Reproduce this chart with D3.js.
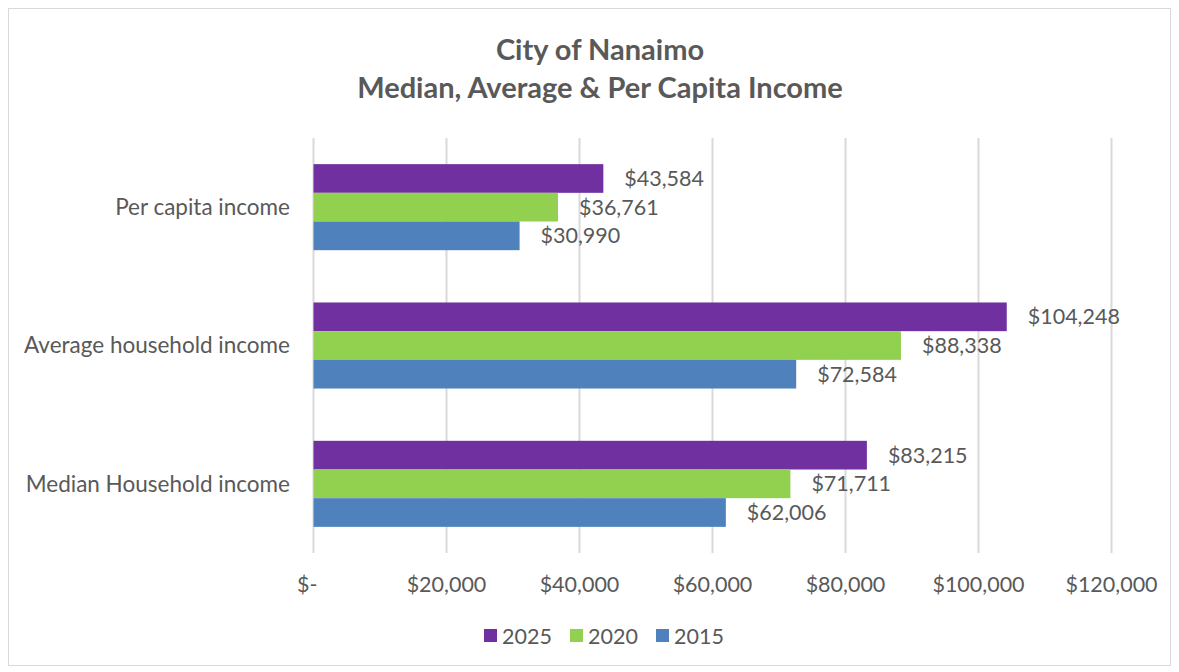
<!DOCTYPE html>
<html>
<head>
<meta charset="utf-8">
<script src="https://cdn.jsdelivr.net/npm/d3@7"></script>
<style>
  body { margin: 0; background: #fff; }
  text { font-family: Lato, "Open Sans", sans-serif; fill: #595959; }
</style>
</head>
<body>
<script>
// categories top to bottom
var categories = ["Per capita income", "Average household income", "Median Household income"];
var seriesNames = ["2025", "2020", "2015"];
var values2025 = [43584, 104248, 83215];
var values2020 = [36761, 88338, 71711];
var values2015 = [30990, 72584, 62006];
var xTicks = [0, 20000, 40000, 60000, 80000, 100000, 120000];
var colors = ["#7030a0", "#92d050", "#4f81bd"];

var width = 1179, height = 672;
var seriesValues = [values2025, values2020, values2015];
var fs = 21.5;

var svg = d3.select("body").append("svg")
    .attr("width", width)
    .attr("height", height);

// chart border
svg.append("rect")
    .attr("x", 8.5).attr("y", 8.5)
    .attr("width", 1162).attr("height", 657)
    .attr("fill", "#fff")
    .attr("stroke", "#d9d9d9");

// title
svg.append("text")
    .attr("x", 600).attr("y", 60)
    .attr("text-anchor", "middle")
    .attr("font-size", 29).attr("font-weight", "bold")
    .text("City of Nanaimo");
svg.append("text")
    .attr("x", 600).attr("y", 98)
    .attr("text-anchor", "middle")
    .attr("font-size", 29).attr("font-weight", "bold")
    .text("Median, Average & Per Capita Income");

var x = d3.scaleLinear().domain([0, 120000]).range([313.5, 1111.5]);

var y0 = d3.scaleBand()
    .domain(categories)
    .range([138, 553])
    .paddingInner(0.378)
    .paddingOuter(0.189);

var y1 = d3.scaleBand()
    .domain(seriesNames)
    .range([0, y0.bandwidth()]);

// gridlines
svg.append("g").selectAll("line")
    .data(xTicks)
    .enter().append("line")
    .attr("x1", function(d) { return x(d); })
    .attr("x2", function(d) { return x(d); })
    .attr("y1", 138).attr("y2", 553)
    .attr("stroke", "#d9d9d9")
    .attr("stroke-width", 2);

// x tick labels
var fmt = d3.format(",");
svg.append("g").selectAll("text")
    .data(xTicks)
    .enter().append("text")
    .attr("x", function(d) { return d === 0 ? 297 : x(d); })
    .attr("y", 592)
    .attr("text-anchor", function(d) { return d === 0 ? "start" : "middle"; })
    .attr("font-size", fs)
    .text(function(d) { return d === 0 ? "$-" : "$" + fmt(d); });

// category labels
svg.append("g").selectAll("text")
    .data(categories)
    .enter().append("text")
    .attr("x", 290)
    .attr("y", function(d) { return y0(d) + y0.bandwidth() / 2; })
    .attr("dy", "0.35em")
    .attr("text-anchor", "end")
    .attr("font-size", 22.5)
    .text(function(d) { return d; });

// bars
var groups = svg.append("g").selectAll("g")
    .data(categories)
    .enter().append("g")
    .attr("transform", function(d) { return "translate(0," + y0(d) + ")"; });

groups.selectAll("rect")
    .data(function(d, i) {
        return seriesNames.map(function(s, j) { return { s: s, v: seriesValues[j][i], j: j }; });
    })
    .enter().append("rect")
    .attr("x", x(0))
    .attr("y", function(d) { return y1(d.s); })
    .attr("width", function(d) { return x(d.v) - x(0); })
    .attr("height", y1.bandwidth())
    .attr("fill", function(d) { return colors[d.j]; });

groups.selectAll("text")
    .data(function(d, i) {
        return seriesNames.map(function(s, j) { return { s: s, v: seriesValues[j][i], j: j }; });
    })
    .enter().append("text")
    .attr("x", function(d) { return x(d.v) + 21; })
    .attr("y", function(d) { return y1(d.s) + y1.bandwidth() / 2; })
    .attr("dy", "0.35em")
    .attr("font-size", fs)
    .text(function(d) { return "$" + fmt(d.v); });

// legend
var legendX = [484, 570, 656];
var legend = svg.append("g").selectAll("g")
    .data(seriesNames)
    .enter().append("g")
    .attr("transform", function(d, i) { return "translate(" + legendX[i] + ",629)"; });
legend.append("rect")
    .attr("width", 13).attr("height", 13)
    .attr("fill", function(d, i) { return colors[i]; });
legend.append("text")
    .attr("x", 18).attr("y", 7)
    .attr("dy", "0.35em")
    .attr("font-size", fs)
    .text(function(d) { return d; });
</script>
</body>
</html>
